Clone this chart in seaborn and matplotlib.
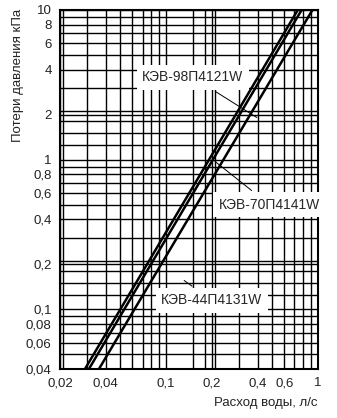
import matplotlib
matplotlib.use("Agg")
import matplotlib.pyplot as plt
import seaborn as sns
import pandas as pd
import numpy as np
from matplotlib.ticker import FixedLocator, NullFormatter

sns.set_theme(style="white")
plt.rcParams['font.family'] = ['Liberation Sans', 'DejaVu Sans']

# data: pressure loss (kPa) vs water flow (l/s)
pressure = [0.04, 10]
flow_98 = [0.0292, 0.736]
flow_70 = [0.0310, 0.780]
flow_44 = [0.0361, 0.919]
series_names = ["КЭВ-98П4121W", "КЭВ-70П4141W", "КЭВ-44П4131W"]

x_ticks = [0.02, 0.04, 0.1, 0.2, 0.4, 0.6, 1]
x_tick_labels = ["0,02", "0,04", "0,1", "0,2", "0,4", "0,6", "1"]
y_ticks = [0.04, 0.06, 0.08, 0.1, 0.2, 0.4, 0.6, 0.8, 1, 2, 4, 6, 8, 10]
y_tick_labels = ["0,04", "0,06", "0,08", "0,1", "0,2", "0,4", "0,6", "0,8",
                 "1", "2", "4", "6", "8", "10"]

df = pd.DataFrame({
    "flow": flow_98 + flow_70 + flow_44,
    "pressure": pressure * 3,
    "series": [series_names[0]] * 2 + [series_names[1]] * 2 + [series_names[2]] * 2,
})

fig = plt.figure(figsize=(3.37, 4.18), dpi=100)
ax = fig.add_axes([60 / 337, 1 - 369 / 418, 258 / 337, 359 / 418])
ax.set_xscale("log")
ax.set_yscale("log")
ax.set_xlim(0.02, 1)
ax.set_ylim(0.04, 10)

# grid (log paper)
mults_y = [1.25, 1.5, 1.8, 2, 2.1, 3, 4, 5, 6, 7, 8, 9]
mults_x = [1.5, 1.8, 2, 2.1, 3, 4, 5, 6, 7, 8, 9]
minor_x, minor_y = [], []
for dec in [0.01, 0.1, 1]:
    minor_x += [dec * m for m in [1] + mults_x]
    minor_y += [dec * m for m in [1] + mults_y]
ax.xaxis.set_minor_locator(FixedLocator(minor_x))
ax.yaxis.set_minor_locator(FixedLocator(minor_y + [10]))
ax.xaxis.set_minor_formatter(NullFormatter())
ax.yaxis.set_minor_formatter(NullFormatter())
ax.grid(True, which="both", color="black", linewidth=1.0)
ax.set_axisbelow(True)

sns.lineplot(data=df, x="flow", y="pressure", hue="series",
             palette=["black", "black", "black"], linewidth=1.8,
             legend=False, ax=ax, zorder=3)

ax.set_xticks(x_ticks)
ax.set_xticklabels(x_tick_labels)
ax.set_yticks(y_ticks)
ax.set_yticklabels(y_tick_labels)
ax.tick_params(axis="both", which="both", length=0, labelsize=9.5, pad=6, colors="#222222")
ax.set_xlim(0.02, 1)
ax.set_ylim(0.04, 10)

for s in ax.spines.values():
    s.set_color("black")
    s.set_linewidth(1.5)

ax.set_xlabel("")
ax.set_ylabel("")
fig.text(18 / 337, 1 - 75 / 418, "Потери давления кПа", rotation=90,
         ha="center", va="center", fontsize=9.5, color="#222222")
fig.text(318 / 337, 1 - 403 / 418, "Расход воды, л/с", ha="right", va="center",
         fontsize=9.5, color="#222222")

box = dict(boxstyle="square,pad=0.4", fc="white", ec="none")
arrow = dict(arrowstyle="-", color="black", lw=0.7)
ax.annotate(series_names[0], xy=(0.41, 1.87), xytext=(0.15, 3.55),
            ha="center", va="center", fontsize=10, bbox=box, arrowprops=arrow, zorder=5)
ax.annotate(series_names[1], xy=(0.203, 1.0), xytext=(0.48, 0.5),
            ha="center", va="center", fontsize=10, bbox=box, arrowprops=arrow, zorder=5)
ax.annotate(series_names[2], xy=(0.127, 0.16), xytext=(0.2, 0.115),
            ha="center", va="center", fontsize=10, bbox=box, arrowprops=arrow, zorder=5)

fig.savefig("out.png", dpi=100)
